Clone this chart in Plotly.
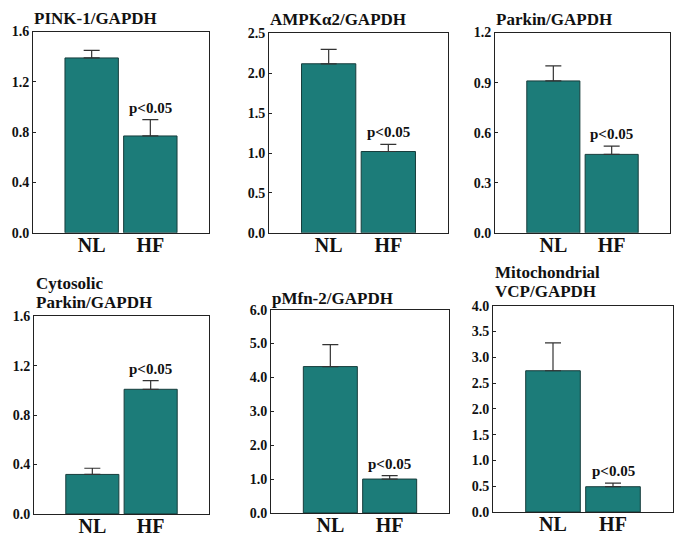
import plotly.graph_objects as go

categories = ["NL", "HF"]

titles = [["PINK-1/GAPDH"], ["AMPKα2/GAPDH"], ["Parkin/GAPDH"],
          ["Cytosolic", "Parkin/GAPDH"], ["pMfn-2/GAPDH"], ["Mitochondrial", "VCP/GAPDH"]]
means = [[1.39, 0.77], [2.12, 1.02], [0.91, 0.47],
         [0.32, 1.01], [4.32, 1.00], [2.74, 0.49]]
errors = [[0.06, 0.13], [0.18, 0.09], [0.09, 0.05],
          [0.05, 0.07], [0.65, 0.10], [0.54, 0.07]]
y_max = [1.6, 2.5, 1.2, 1.6, 6.0, 4.0]
y_step = [0.4, 0.5, 0.3, 0.4, 1.0, 0.5]
p_label = "p<0.05"

W, H = 690, 546
OFF = 8  # page body margin shifts the figure by this many px
# pixel boxes on screen (left, top, right, bottom)
boxes = [(33, 25, 209, 232), (269, 27, 448, 232), (495, 26, 670, 232),
         (34, 318, 209, 521), (271, 311, 449, 520), (493, 307, 673, 519)]
# title start x and line centre y's (screen)
title_pos = [(33, [12]), (269, [13]), (495, [13]),
             (35, [284, 304]), (271, [300]), (494, [273, 292.5])]

FONT = "Liberation Serif"
BAR = "#1c7c79"


def px_x(v):
    return (v - OFF) / W


def px_y(v):
    return 1 - (v - OFF) / H


fig = go.Figure()
annotations = []
layout = {}
for i in range(6):
    n = i + 1
    xa = "x" if n == 1 else f"x{n}"
    ya = "y" if n == 1 else f"y{n}"
    l, t, r, b = boxes[i]
    fig.add_trace(go.Bar(
        x=[0, 1], y=means[i], width=0.91,
        marker=dict(color=BAR, line=dict(color="#173d3c", width=1)),
        error_y=dict(type="data", array=errors[i], arrayminus=[0, 0],
                     symmetric=False, color="#333333", thickness=1.2, width=8),
        xaxis=xa, yaxis=ya, showlegend=False))
    nt = int(round(y_max[i] / y_step[i]))
    tv = [round(k * y_step[i], 3) for k in range(nt + 1)]
    layout["xaxis" if n == 1 else f"xaxis{n}"] = dict(
        domain=[px_x(l), px_x(r)], range=[-1, 2], anchor=ya,
        tickvals=[0, 1], ticktext=[f"<b>{c}</b>" for c in categories],
        ticks="", ticklabelstandoff=-6,
        showline=True, mirror=True, linecolor="#222222", linewidth=1,
        showgrid=False, zeroline=False,
        tickfont=dict(family=FONT, size=20, color="#111111"))
    layout["yaxis" if n == 1 else f"yaxis{n}"] = dict(
        domain=[px_y(b), px_y(t)], range=[0, y_max[i]], anchor=xa,
        tickvals=tv, ticktext=[f"<b>{v:.1f}</b>" for v in tv],
        ticks="inside", ticklen=3, tickcolor="#222222",
        showline=True, mirror=True, linecolor="#222222", linewidth=1,
        showgrid=False, zeroline=False,
        tickfont=dict(family=FONT, size=14, color="#111111"))
    tx, tys = title_pos[i]
    for line, ty in zip(titles[i], tys):
        annotations.append(dict(
            text=f"<b>{line}</b>", xref="paper", yref="paper",
            x=px_x(tx), y=px_y(ty), xanchor="left", yanchor="middle",
            align="left", showarrow=False, borderpad=0,
            font=dict(family=FONT, size=17, color="#111111")))
    annotations.append(dict(
        text=f"<b>{p_label}</b>", xref=xa, yref=ya,
        x=1, y=means[i][1] + errors[i][1], xanchor="center", yanchor="bottom",
        yshift=2, showarrow=False,
        font=dict(family=FONT, size=15, color="#111111")))

fig.update_layout(width=W, height=H, margin=dict(l=0, r=0, t=0, b=0),
                  paper_bgcolor="white", plot_bgcolor="white",
                  annotations=annotations, **layout)
fig.write_html("out.html")
